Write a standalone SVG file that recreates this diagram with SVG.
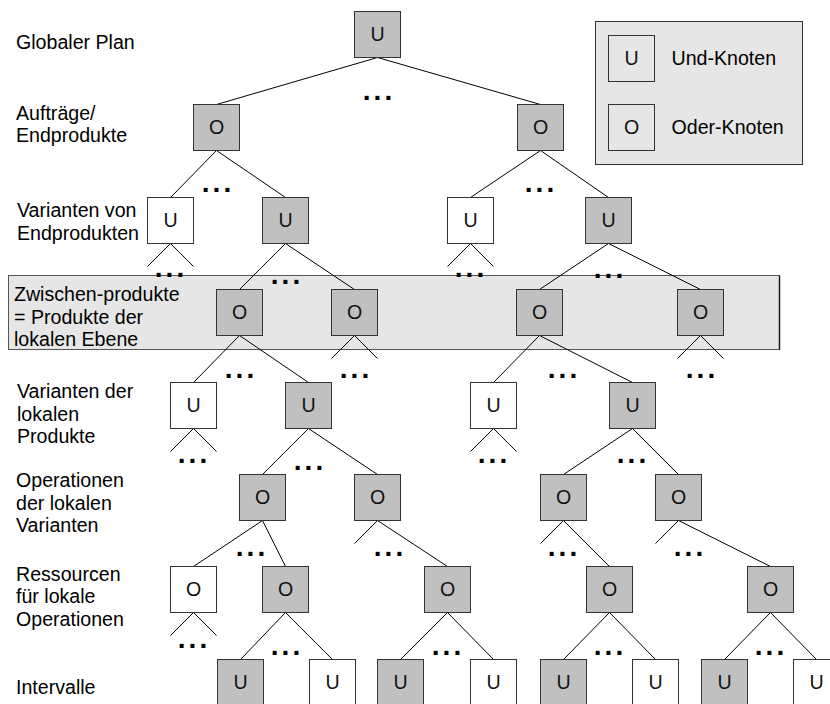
<svg xmlns="http://www.w3.org/2000/svg" width="830" height="704" viewBox="0 0 830 704">
  <defs>
    <style>
      .lbl { font-family: "Liberation Sans", Arial, sans-serif; font-size: 19.6px; fill: #000; }
      .ltr { font-family: "Liberation Sans", Arial, sans-serif; font-size: 19.6px; fill: #111; text-anchor: middle; }
      .dots { font-family: "Liberation Sans", Arial, sans-serif; font-size: 28px; font-weight: bold; fill: #000; text-anchor: middle; letter-spacing: 3px; }
      .box { stroke: #333; stroke-width: 1; }
      .and { fill: #c0c0c0; }
      .or { fill: #c0c0c0; }
      .open { fill: #fff; }
      .edge { stroke: #000; stroke-width: 1; fill: none; }
      .panel { fill: #e6e6e6; stroke: #555; stroke-width: 1; }
    </style>
    <rect id="nodebox" width="46" height="46"/>
  </defs>

  <rect width="830" height="704" fill="#fff"/>

  <!-- band marking the local product level -->
  <g id="band-local">
    <rect class="panel" x="8.5" y="275.5" width="771" height="74"/>
    <line x1="779.5" y1="275.5" x2="779.5" y2="350" stroke="#1a1a1a" stroke-width="1.5"/>
  </g>

  <!-- level labels -->
  <g id="labels">
    <text class="lbl" x="16" y="48.5">Globaler Plan</text>
    <text class="lbl" x="16" y="119.5">Aufträge/</text>
    <text class="lbl" x="16" y="142">Endprodukte</text>
    <text class="lbl" x="17" y="217">Varianten von</text>
    <text class="lbl" x="17" y="239.5">Endprodukten</text>
    <text class="lbl" x="14" y="301">Zwischen-produkte</text>
    <text class="lbl" x="14" y="323.5">= Produkte der</text>
    <text class="lbl" x="14" y="346">lokalen Ebene</text>
    <text class="lbl" x="17" y="398">Varianten der</text>
    <text class="lbl" x="17" y="420.5">lokalen</text>
    <text class="lbl" x="17" y="443">Produkte</text>
    <text class="lbl" x="16" y="487">Operationen</text>
    <text class="lbl" x="16" y="509.5">der lokalen</text>
    <text class="lbl" x="16" y="532">Varianten</text>
    <text class="lbl" x="16" y="580.5">Ressourcen</text>
    <text class="lbl" x="16" y="603">für lokale</text>
    <text class="lbl" x="16" y="625.5">Operationen</text>
    <text class="lbl" x="16" y="693.5">Intervalle</text>
  </g>

  <!-- connectors: parent bottom centre to child top centre -->
  <g id="connectors" class="edge">
    <path d="M377.5 57.5 L216.5 104.5 M377.5 57.5 L540.5 104.5"/>
    <path d="M216.5 150.5 L170.5 197.5 M216.5 150.5 L285.5 197.5"/>
    <path d="M540.5 150.5 L470.5 197.5 M540.5 150.5 L608.5 197.5"/>
    <path d="M170.5 243.5 L147.5 266.5 M170.5 243.5 L193.5 266.5"/>
    <path d="M470.5 243.5 L447.5 266.5 M470.5 243.5 L493.5 266.5"/>
    <path d="M285.5 243.5 L239.5 289.5 M285.5 243.5 L354.5 289.5"/>
    <path d="M608.5 243.5 L539.5 289.5 M608.5 243.5 L700.5 289.5"/>
    <path d="M239.5 335.5 L193.5 382.5 M239.5 335.5 L308.5 382.5"/>
    <path d="M354.5 335.5 L331.5 358.5 M354.5 335.5 L377.5 358.5"/>
    <path d="M539.5 335.5 L493.5 382.5 M539.5 335.5 L632.5 382.5"/>
    <path d="M700.5 335.5 L677.5 358.5 M700.5 335.5 L723.5 358.5"/>
    <path d="M193.5 428.5 L170.5 451.5 M193.5 428.5 L216.5 451.5"/>
    <path d="M493.5 428.5 L470.5 451.5 M493.5 428.5 L516.5 451.5"/>
    <path d="M308.5 428.5 L262.5 474.5 M308.5 428.5 L377.5 474.5"/>
    <path d="M632.5 428.5 L563.5 474.5 M632.5 428.5 L678.5 474.5"/>
    <path d="M262.5 520.5 L193.5 566.5 M262.5 520.5 L285.5 566.5"/>
    <path d="M377.5 520.5 L354.5 543.5 M377.5 520.5 L447.5 566.5"/>
    <path d="M563.5 520.5 L540.5 543.5 M563.5 520.5 L609.5 566.5"/>
    <path d="M678.5 520.5 L655.5 543.5 M678.5 520.5 L770.5 566.5"/>
    <path d="M193.5 612.5 L170.5 635.5 M193.5 612.5 L216.5 635.5"/>
    <path d="M285.5 612.5 L240.5 659.5 M285.5 612.5 L332.5 659.5"/>
    <path d="M447.5 612.5 L400.5 659.5 M447.5 612.5 L493.5 659.5"/>
    <path d="M609.5 612.5 L563.5 659.5 M609.5 612.5 L655.5 659.5"/>
    <path d="M770.5 612.5 L724.5 659.5 M770.5 612.5 L816.5 659.5"/>
  </g>

  <!-- elided siblings -->
  <g id="ellipses">
    <text class="dots" x="379" y="99.5">...</text>
    <text class="dots" x="218" y="192">...</text>
    <text class="dots" x="541" y="192">...</text>
    <text class="dots" x="171" y="277">...</text>
    <text class="dots" x="471" y="277">...</text>
    <text class="dots" x="287" y="284">...</text>
    <text class="dots" x="610" y="278">...</text>
    <text class="dots" x="241" y="378">...</text>
    <text class="dots" x="356" y="378">...</text>
    <text class="dots" x="564" y="378">...</text>
    <text class="dots" x="702" y="378">...</text>
    <text class="dots" x="194" y="463">...</text>
    <text class="dots" x="310" y="470">...</text>
    <text class="dots" x="494" y="463">...</text>
    <text class="dots" x="633" y="463">...</text>
    <text class="dots" x="252" y="556">...</text>
    <text class="dots" x="390" y="555.5">...</text>
    <text class="dots" x="564" y="556">...</text>
    <text class="dots" x="690" y="556">...</text>
    <text class="dots" x="194" y="648">...</text>
    <text class="dots" x="287" y="655">...</text>
    <text class="dots" x="448" y="655">...</text>
    <text class="dots" x="610" y="655">...</text>
    <text class="dots" x="771" y="655">...</text>
  </g>

  <!-- level 1: global plan -->
  <g id="n-plan"><use href="#nodebox" class="box and" x="354.5" y="11.5"/><text class="ltr" x="377.5" y="40.5">U</text></g>

  <!-- level 2: orders / end products -->
  <g id="n-order-1"><use href="#nodebox" class="box or" x="193.5" y="104.5"/><text class="ltr" x="216.5" y="133.5">O</text></g>
  <g id="n-order-2"><use href="#nodebox" class="box or" x="517.5" y="104.5"/><text class="ltr" x="540.5" y="133.5">O</text></g>

  <!-- level 3: end product variants -->
  <g id="n-var-1"><use href="#nodebox" class="box open" x="147.5" y="197.5"/><text class="ltr" x="170.5" y="226.5">U</text></g>
  <g id="n-var-2"><use href="#nodebox" class="box and" x="262.5" y="197.5"/><text class="ltr" x="285.5" y="226.5">U</text></g>
  <g id="n-var-3"><use href="#nodebox" class="box open" x="447.5" y="197.5"/><text class="ltr" x="470.5" y="226.5">U</text></g>
  <g id="n-var-4"><use href="#nodebox" class="box and" x="585.5" y="197.5"/><text class="ltr" x="608.5" y="226.5">U</text></g>

  <!-- level 4: intermediate products -->
  <g id="n-inter-1"><use href="#nodebox" class="box or" x="216.5" y="289.5"/><text class="ltr" x="239.5" y="318.5">O</text></g>
  <g id="n-inter-2"><use href="#nodebox" class="box or" x="331.5" y="289.5"/><text class="ltr" x="354.5" y="318.5">O</text></g>
  <g id="n-inter-3"><use href="#nodebox" class="box or" x="516.5" y="289.5"/><text class="ltr" x="539.5" y="318.5">O</text></g>
  <g id="n-inter-4"><use href="#nodebox" class="box or" x="677.5" y="289.5"/><text class="ltr" x="700.5" y="318.5">O</text></g>

  <!-- level 5: local product variants -->
  <g id="n-lvar-1"><use href="#nodebox" class="box open" x="170.5" y="382.5"/><text class="ltr" x="193.5" y="411.5">U</text></g>
  <g id="n-lvar-2"><use href="#nodebox" class="box and" x="285.5" y="382.5"/><text class="ltr" x="308.5" y="411.5">U</text></g>
  <g id="n-lvar-3"><use href="#nodebox" class="box open" x="470.5" y="382.5"/><text class="ltr" x="493.5" y="411.5">U</text></g>
  <g id="n-lvar-4"><use href="#nodebox" class="box and" x="609.5" y="382.5"/><text class="ltr" x="632.5" y="411.5">U</text></g>

  <!-- level 6: operations -->
  <g id="n-op-1"><use href="#nodebox" class="box or" x="239.5" y="474.5"/><text class="ltr" x="262.5" y="503.5">O</text></g>
  <g id="n-op-2"><use href="#nodebox" class="box or" x="354.5" y="474.5"/><text class="ltr" x="377.5" y="503.5">O</text></g>
  <g id="n-op-3"><use href="#nodebox" class="box or" x="540.5" y="474.5"/><text class="ltr" x="563.5" y="503.5">O</text></g>
  <g id="n-op-4"><use href="#nodebox" class="box or" x="655.5" y="474.5"/><text class="ltr" x="678.5" y="503.5">O</text></g>

  <!-- level 7: resources -->
  <g id="n-res-1"><use href="#nodebox" class="box open" x="170.5" y="566.5"/><text class="ltr" x="193.5" y="595.5">O</text></g>
  <g id="n-res-2"><use href="#nodebox" class="box or" x="262.5" y="566.5"/><text class="ltr" x="285.5" y="595.5">O</text></g>
  <g id="n-res-3"><use href="#nodebox" class="box or" x="424.5" y="566.5"/><text class="ltr" x="447.5" y="595.5">O</text></g>
  <g id="n-res-4"><use href="#nodebox" class="box or" x="586.5" y="566.5"/><text class="ltr" x="609.5" y="595.5">O</text></g>
  <g id="n-res-5"><use href="#nodebox" class="box or" x="747.5" y="566.5"/><text class="ltr" x="770.5" y="595.5">O</text></g>

  <!-- level 8: intervals -->
  <g id="n-int-1"><use href="#nodebox" class="box and" x="217.5" y="659.5"/><text class="ltr" x="240.5" y="688.5">U</text></g>
  <g id="n-int-2"><use href="#nodebox" class="box open" x="309.5" y="659.5"/><text class="ltr" x="332.5" y="688.5">U</text></g>
  <g id="n-int-3"><use href="#nodebox" class="box and" x="377.5" y="659.5"/><text class="ltr" x="400.5" y="688.5">U</text></g>
  <g id="n-int-4"><use href="#nodebox" class="box open" x="470.5" y="659.5"/><text class="ltr" x="493.5" y="688.5">U</text></g>
  <g id="n-int-5"><use href="#nodebox" class="box and" x="540.5" y="659.5"/><text class="ltr" x="563.5" y="688.5">U</text></g>
  <g id="n-int-6"><use href="#nodebox" class="box open" x="632.5" y="659.5"/><text class="ltr" x="655.5" y="688.5">U</text></g>
  <g id="n-int-7"><use href="#nodebox" class="box and" x="701.5" y="659.5"/><text class="ltr" x="724.5" y="688.5">U</text></g>
  <g id="n-int-8"><use href="#nodebox" class="box open" x="793.5" y="659.5"/><text class="ltr" x="816.5" y="688.5">U</text></g>

  <!-- legend -->
  <g id="legend">
    <rect x="595.5" y="21.5" width="207" height="143" fill="#e6e6e6" stroke="#333"/>
    <use href="#nodebox" class="box" fill="none" x="608.5" y="35.5"/>
    <text class="ltr" x="631.5" y="64.5">U</text>
    <text class="lbl" x="671.5" y="64.5">Und-Knoten</text>
    <use href="#nodebox" class="box" fill="none" x="608.5" y="104.5"/>
    <text class="ltr" x="631.5" y="133.5">O</text>
    <text class="lbl" x="671.5" y="133.5">Oder-Knoten</text>
  </g>
</svg>
